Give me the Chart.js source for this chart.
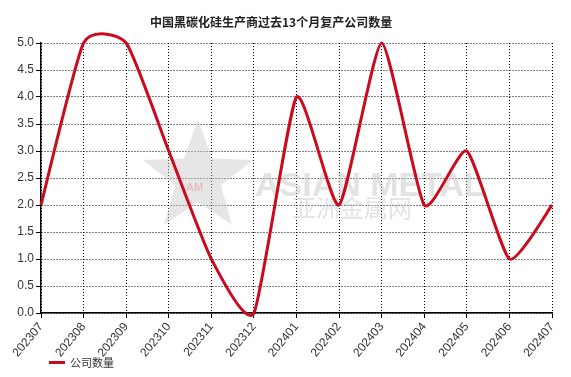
<!DOCTYPE html>
<html lang="zh">
<head>
    <meta charset="UTF-8">
    <title>中国黑碳化硅生产商过去13个月复产公司数量</title>
    <script src="https://cdn.jsdelivr.net/npm/chart.js"></script>
</head>
<style>
    body { margin: 0; background: #fff; }
    #box { position: relative; width: 571px; height: 377px; }
    #title {
        position: absolute; left: 150px; top: 13px; width: 232px;
        text-align: center; font: bold 12px "Noto Sans CJK SC", sans-serif; color: #222;
        white-space: nowrap;
    }
    #legend {
        position: absolute; left: 49px; top: 354px;
        display: flex; align-items: center;
        font: 11px "Noto Sans CJK SC", sans-serif; color: #333;
    }
    #legend span.swatch { width: 16px; height: 3px; background: #cc0a1f; margin-right: 5px; }
</style>
<body>
    <div id="box">
        <canvas id="myChart" width="571" height="377"></canvas>
        <div id="title">中国黑碳化硅生产商过去13个月复产公司数量</div>
        <div id="legend"><span class="swatch"></span>公司数量</div>
    </div>

    <script>
        const months = ['202307', '202308', '202309', '202310', '202311', '202312', '202401',
            '202402', '202403', '202404', '202405', '202406', '202407'];
        const companyCount = [2, 5, 5, 3, 1, 0, 4, 2, 5, 2, 3, 1, 2];
        const yTicks = [0, 0.5, 1, 1.5, 2, 2.5, 3, 3.5, 4, 4.5, 5];

        // faint site watermark behind the line
        const watermark = {
            id: 'watermark',
            beforeDatasetsDraw(chart) {
                const ctx = chart.ctx;
                ctx.save();
                ctx.fillStyle = 'rgba(200,200,200,0.45)';
                ctx.beginPath();
                const cx = 198, cy = 178, ro = 58, ri = 24;
                for (let i = 0; i < 10; i++) {
                    const r = i % 2 ? ri : ro;
                    const a = -Math.PI / 2 + i * Math.PI / 5;
                    ctx.lineTo(cx + r * Math.cos(a), cy + r * Math.sin(a));
                }
                ctx.closePath();
                ctx.fill();
                ctx.fillStyle = 'rgba(230,120,120,0.35)';
                ctx.font = 'bold 11px "Liberation Sans"';
                ctx.fillText('AM', 186, 191);
                ctx.fillStyle = 'rgba(200,200,200,0.5)';
                ctx.font = 'bold 34px "Liberation Sans"';
                ctx.fillText('ASIAN METAL', 255, 196);
                ctx.font = '24px "Noto Sans CJK SC"';
                ctx.fillText('亚洲金属网', 292, 217);
                ctx.restore();
            }
        };

        // plain cardinal spline (tangent = k * (next - prev)) instead of Chart.js distance-weighted one
        const cardinal = {
            id: 'cardinal',
            beforeDatasetDraw(chart, args) {
                const k = 0.09;
                const line = args.meta.dataset;
                const pts = args.meta.data;
                line.updateControlPoints(chart.chartArea);
                pts.forEach((p, i) => {
                    const prev = pts[i - 1] || p;
                    const next = pts[i + 1] || p;
                    const dx = next.x - prev.x, dy = next.y - prev.y;
                    p.cp1x = p.x - k * dx; p.cp1y = p.y - k * dy;
                    p.cp2x = p.x + k * dx; p.cp2y = p.y + k * dy;
                });
                line._path = undefined;
            }
        };

        const gridStyle = {
            color: '#000',
            lineWidth: 1,
            drawTicks: true,
            tickLength: 5,
            tickColor: '#000',
            tickBorderDash: []
        };

        const chart = new Chart(document.getElementById('myChart'), {
            type: 'line',
            data: {
                labels: months,
                datasets: [{
                    label: '公司数量',
                    data: companyCount,
                    borderColor: '#cc0a1f',
                    borderWidth: 3,
                    pointRadius: 0,
                    tension: 0.4,
                    capBezierPoints: false,
                    clip: false,
                    fill: false
                }]
            },
            options: {
                responsive: false,
                animation: false,
                layout: { padding: { top: 43, right: 19, left: 0, bottom: 0 } },
                plugins: {
                    legend: { display: false },
                    title: { display: false },
                    tooltip: { enabled: false }
                },
                scales: {
                    x: {
                        offset: false,
                        grid: gridStyle,
                        border: { display: true, color: '#000', width: 1.5, dash: [1, 2] },
                        ticks: {
                            color: '#333',
                            font: { family: 'Liberation Sans', size: 12 },
                            minRotation: 50,
                            maxRotation: 50,
                            padding: 2,
                            autoSkip: false
                        },
                        afterFit(s) { s.height = 64; }
                    },
                    y: {
                        min: 0,
                        max: 5,
                        afterBuildTicks(s) { s.ticks = yTicks.map(v => ({ value: v })); },
                        grid: gridStyle,
                        border: { display: true, color: '#000', width: 1.5, dash: [1, 2] },
                        ticks: {
                            color: '#333',
                            font: { family: 'Liberation Sans', size: 12 },
                            padding: 2,
                            callback: v => v.toFixed(1)
                        },
                        afterFit(s) { s.width = 41; }
                    }
                }
            },
            plugins: [watermark, cardinal]
        });
    </script>
</body>
</html>
